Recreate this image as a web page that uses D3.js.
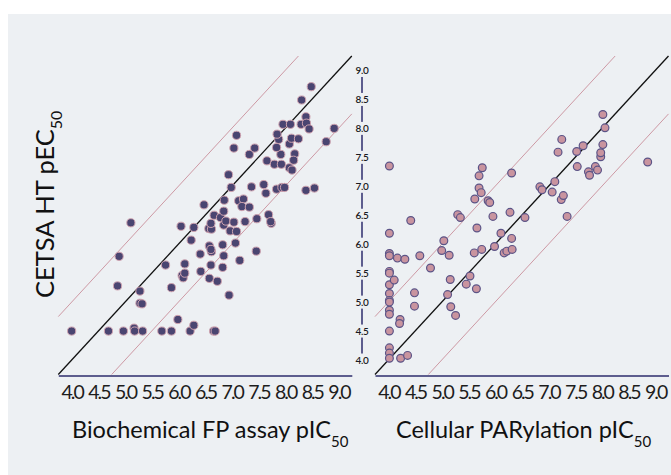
<!doctype html>
<html lang="">
    <head>
        <meta charset="utf-8">
        <title>CETSA HT vs biochemical / cellular potency</title>
        <script src="https://cdn.jsdelivr.net/npm/d3@7/dist/d3.min.js"></script>
        <style>
          body { margin: 0; background: #fff; }
          text { font-family: Lato, "Open Sans", sans-serif; }
        </style>
    </head>
    <body>
    </body>
<script>

// Data: [x, y]
var biochemPoints = [
  [4.00,4.50],[4.69,4.50],[4.97,4.50],[5.17,4.55],[5.18,4.50],[5.33,4.50],[5.69,4.50],[5.87,4.50],
  [6.22,4.50],[6.29,4.60],[6.66,4.50],[6.69,4.50],[5.99,4.70],[5.28,4.98],[5.32,4.97],[5.28,5.19],
  [4.86,5.28],[4.89,5.79],[5.11,6.37],[5.87,5.25],[5.76,5.64],[6.12,5.66],[6.07,5.46],[6.09,5.42],
  [6.12,5.50],[6.42,5.53],[6.58,5.41],[6.73,5.36],[6.95,5.12],[6.83,5.60],[6.61,5.64],[6.85,5.80],
  [7.15,5.72],[7.46,5.88],[6.41,5.83],[6.58,5.97],[6.62,5.87],[6.61,5.91],[6.83,5.99],[7.07,6.02],
  [6.24,6.07],[6.05,6.31],[6.29,6.29],[6.57,6.27],[6.62,6.26],[6.61,6.36],[6.48,6.68],[6.67,6.50],
  [6.79,6.46],[6.85,6.57],[6.86,6.76],[6.85,6.33],[6.89,6.40],[6.97,6.23],[7.04,6.38],[7.09,6.22],
  [7.25,6.39],[7.47,6.44],[7.69,6.51],[7.74,6.36],[7.73,6.39],[7.13,6.75],[7.22,6.78],[7.19,6.65],
  [7.33,6.64],[6.99,6.98],[6.94,7.20],[7.37,6.99],[7.60,7.03],[7.64,6.88],[7.84,6.95],[7.94,6.98],
  [7.99,6.98],[8.39,6.93],[8.55,6.97],[7.09,7.88],[7.04,7.66],[7.33,7.55],[7.43,7.66],[7.66,7.44],
  [7.80,7.38],[7.93,7.38],[7.92,7.55],[7.84,7.67],[7.88,7.81],[8.08,7.73],[8.12,7.83],[8.25,7.82],
  [8.18,7.56],[8.16,7.45],[8.08,7.32],[8.13,7.28],[7.85,7.90],[7.96,8.07],[8.10,8.07],[8.30,8.07],
  [8.39,8.20],[8.40,8.09],[8.45,7.99],[8.31,8.49],[8.49,8.72],[8.77,7.77],[8.92,8.00]
];

var cellularPoints = [
  [4.02,7.35],[4.02,6.19],[4.02,5.84],[4.02,5.80],[4.02,5.53],[4.02,5.50],[4.02,5.30],[4.02,5.15],
  [4.02,5.03],[4.02,5.00],[4.02,4.86],[4.02,4.79],[4.02,4.50],[4.02,4.21],[4.02,4.12],[4.02,4.03],
  [4.17,5.76],[4.31,5.74],[4.11,5.38],[4.42,6.41],[4.59,5.80],[4.49,5.16],[4.49,4.93],[4.22,4.70],
  [4.21,4.63],[4.23,4.03],[4.36,4.08],[4.79,5.59],[5.04,6.06],[5.00,5.89],[5.14,5.81],[5.16,5.39],
  [5.11,5.13],[5.17,4.92],[5.26,4.77],[5.30,6.51],[5.35,6.46],[5.53,5.45],[5.46,5.31],[5.65,5.23],
  [5.61,5.85],[5.66,6.28],[5.75,5.91],[5.62,6.78],[5.70,6.97],[5.74,6.89],[5.70,7.18],[5.76,7.32],
  [5.87,6.75],[5.90,6.72],[5.96,6.48],[5.99,5.96],[6.11,6.19],[6.17,5.85],[6.22,5.88],[6.31,6.10],
  [6.32,5.91],[6.28,6.55],[6.31,7.23],[6.56,6.46],[6.84,6.99],[6.88,6.94],[7.07,6.90],[7.12,7.08],
  [7.24,6.77],[7.28,6.84],[7.35,6.48],[7.18,7.59],[7.25,7.81],[7.54,7.34],[7.53,7.60],[7.65,7.70],
  [7.75,7.25],[7.77,7.19],[7.88,7.34],[7.92,7.28],[7.98,7.51],[7.98,7.58],[8.02,7.72],[8.06,8.01],
  [8.02,8.24],[8.86,7.42]
];

var xTicks = [4.0, 4.5, 5.0, 5.5, 6.0, 6.5, 7.0, 7.5, 8.0, 8.5, 9.0];
var yTicks = [4.0, 4.5, 5.0, 5.5, 6.0, 6.5, 7.0, 7.5, 8.0, 8.5, 9.0];
// identity line and +/- 1 log unit lines
var guideOffsets = [0, 1, -1];
var domain = [3.75, 9.25];

// Graphics
var outerWidth = 671;
var outerHeight = 475;
var bg = "#edf0f3";

var svg = d3.select("body").append("svg")
  .attr("width", outerWidth)
  .attr("height", outerHeight);

svg.append("rect")
  .attr("x", 8).attr("y", 14)
  .attr("width", outerWidth - 8)
  .attr("height", outerHeight - 14)
  .attr("fill", bg);

var yScale = d3.scaleLinear().domain(domain).range([374.5, 56]);

var panels = [
  {points: biochemPoints, x0: 58.3, x1: 351.8, fill: "#4a4571", stroke: "#cfa3b0", r: 4.1, sw: 1,
   title: "Biochemical FP assay pIC", tx: 72},
  {points: cellularPoints, x0: 375, x1: 668.5, fill: "#c9949f", stroke: "#5b5487", r: 3.9, sw: 1.2,
   title: "Cellular PARylation pIC", tx: 396}
];

panels.forEach(function(p) {
  var xScale = d3.scaleLinear().domain(domain).range([p.x0, p.x1]);
  var g = svg.append("g");

  // guide lines
  guideOffsets.forEach(function(off) {
    var a = Math.max(domain[0], domain[0] - off);
    var b = Math.min(domain[1], domain[1] - off);
    g.append("line")
      .attr("x1", xScale(a)).attr("y1", yScale(a + off))
      .attr("x2", xScale(b)).attr("y2", yScale(b + off))
      .attr("stroke", off === 0 ? "#111" : "#c98e9b")
      .attr("stroke-width", off === 0 ? 1.3 : 0.9);
  });

  // x axis
  var xAxis = d3.axisBottom(xScale).tickValues(xTicks).tickSize(0).tickPadding(10)
    .tickFormat(d3.format(".1f"));
  var ax = g.append("g")
    .attr("transform", "translate(0," + 375.5 + ")")
    .call(xAxis);
  ax.select(".domain").attr("stroke", "#2c2c6c").attr("stroke-width", 1.5);
  ax.selectAll("text")
    .attr("font-family", "Lato, sans-serif")
    .attr("font-size", 19.5)
    .attr("letter-spacing", "-2px")
    .attr("fill", "#1d1d1d");

  // points
  g.selectAll("circle")
    .data(p.points)
    .enter()
    .append("circle")
    .attr("cx", function(d) { return xScale(d[0]); })
    .attr("cy", function(d) { return yScale(d[1]); })
    .attr("r", p.r)
    .attr("fill", p.fill)
    .attr("stroke", p.stroke)
    .attr("stroke-width", p.sw);

  // x title
  var t = svg.append("text")
    .attr("x", p.tx).attr("y", 438)
    .attr("font-size", 23.5)
    .attr("fill", "#111");
  t.append("tspan").text(p.title);
  t.append("tspan").attr("dy", 9).attr("font-size", 15).text("50");
});

// shared y axis between the panels
var yAxisX = 362;
svg.append("line")
  .attr("x1", yAxisX).attr("x2", yAxisX)
  .attr("y1", yScale(9.0)).attr("y2", yScale(4.0))
  .attr("stroke", "#2c2c6c").attr("stroke-width", 1.5);

var yl = svg.selectAll(".ylab")
  .data(yTicks)
  .enter()
  .append("g")
  .attr("class", "ylab")
  .attr("transform", function(d) { return "translate(" + yAxisX + "," + yScale(d) + ")"; });
yl.append("rect")
  .attr("x", -9).attr("y", -6.5).attr("width", 18).attr("height", 13)
  .attr("fill", bg);
yl.append("text")
  .attr("text-anchor", "middle")
  .attr("dy", "0.35em")
  .attr("font-size", 10)
  .attr("font-weight", 600)
  .attr("letter-spacing", "-0.3px")
  .attr("fill", "#1a1a22")
  .text(function(d) { return d3.format(".1f")(d); });

// y title
var yt = svg.append("text")
  .attr("transform", "translate(54,298) rotate(-90)")
  .attr("font-size", 25.5)
  .attr("fill", "#111");
yt.append("tspan").text("CETSA HT pEC");
yt.append("tspan").attr("dy", 8).attr("font-size", 16).text("50");

</script>
</html>
